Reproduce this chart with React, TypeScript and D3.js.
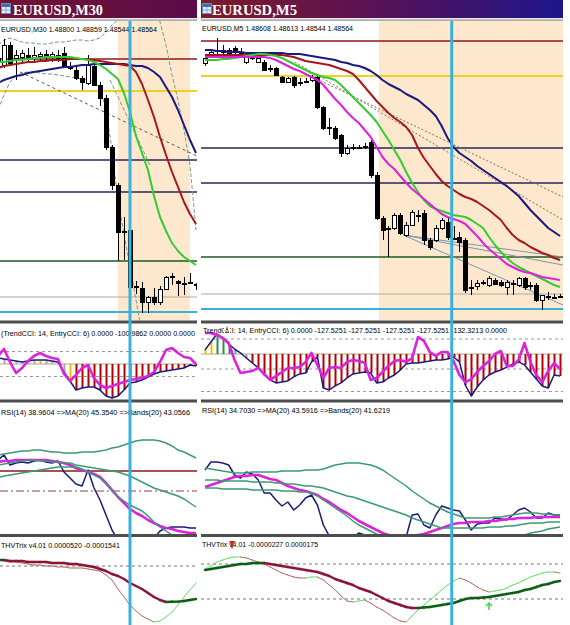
import React from "react";
import * as d3 from "d3";

/* ================= DATA ================= */
// Prices are in points above 1.48000 (1 point = 0.00001)

// ---- EURUSD, M30 (left) ----
const m30Open = [1014,1004,1044,1018,1020,1024,1018,1022,1026,1020,1024,1028,1002,994,978,968,1002,964,938,840,764,672,674,562,558,530,540,530,556,582,572,568,570,566];
const m30High = [1024,1056,1050,1034,1034,1038,1040,1030,1034,1030,1034,1040,1010,1002,982,1024,1010,970,944,844,768,700,678,572,570,542,558,562,582,588,574,580,588,568];
const m30Low = [1002,998,1004,974,1010,1010,1010,1014,1014,1010,1010,998,994,974,954,964,962,922,834,754,612,614,554,546,508,508,524,524,554,564,542,544,566,554];
const m30Close = [1018,1044,1008,1024,1028,1018,1024,1026,1020,1026,1018,1002,998,978,970,1004,964,938,840,764,670,670,560,560,530,540,530,556,580,582,568,568,568,564];
const m30MaGreen = [1010,1010,1012,1014,1014,1016,1018,1018,1020,1020,1020,1020,1020,1018,1016,1014,1010,1004,996,986,976,948,910,862,828,794,742,700,672,648,632,620,612,604];
const m30MaRed = [998,1002,1004,1006,1008,1010,1010,1012,1012,1014,1014,1014,1016,1016,1016,1016,1014,1012,1010,1008,1006,1004,1002,990,966,934,900,860,824,790,760,730,706,686];
const m30MaNavy = [968,974,978,982,984,988,990,992,994,996,998,1000,1000,1002,1004,1004,1006,1006,1006,1006,1006,1006,1004,1002,1002,998,990,980,960,940,914,884,854,828];
const m30EnvUpper = [1044,1054,1058,1054,1050,1048,1048,1046,1046,1048,1050,1050,1052,1054,1054,1052,1054,1058,1070,1084,1094,1104,1114,1124,1130,1134,1124,1090,1044,984,934,874,804,674];
const m30EnvLower = [914,944,970,982,988,990,990,988,986,986,984,982,980,978,976,974,970,958,914,834,734,666,600,534,466,434,414,404,398,394,390,388,386,384];
const m30Levels = [1016, 952, 814, 750, 612, 540, 510];
const m30TrendLine: [number, number][] = [[3.67, 990], [33.5, 820]];
const m30ChannelLine: [number, number][] = [[18.67, 974], [25.33, 804]];
const m30Session: [number, number] = [20, 32];
const m30Cursor = 22;
const m30TrendCci = [48,40,32,24,16,24,32,32,32,24,16,-64,-136,-208,-192,-184,-184,-208,-256,-272,-256,-208,-152,-144,-128,-104,-80,-64,-56,-48,-40,-32,-8,-16];
const m30EntryCci = [64,120,16,-72,-32,24,64,88,64,48,40,-80,-136,-88,-32,-8,-112,-168,-192,-176,-160,-144,-128,-120,-112,-96,-64,16,112,128,88,56,48,0];
const m30CciState = "nnnnnnnynnnnyrrrrrrrrrrrrrrrrrrrrr";
const m30CciLevels = [100, -100];
const m30Rsi = [81,86,76,78,79,78,80,81,79,78,80,69,63,57,55,71,53,41,26,11,1,1,1,2,2,1,3,10,13,14,14,14,13,13];
const m30RsiMa = [79,80,80,81,81,81,81,81,81,80,79,78,76,73,71,69,67,64,58,51,44,38,32,28,25,21,18,15,13,12,10,9,8,8];
const m30BandUp = [86,87,88,89,90,90,91,91,90,89,89,88,88,88,89,89,89,90,91,93,94,96,98,100,101,101,101,100,98,95,91,89,86,83];
const m30BandMid = [76,77,78,79,80,81,81,80,80,79,79,78,78,76,75,74,73,72,71,70,69,67,65,62,59,56,53,51,49,47,45,42,38,34];
const m30BandLow = [63,65,66,67,68,69,70,71,72,73,74,74,74,74,72,69,66,63,57,50,44,40,36,33,30,25,19,14,10,6,2,-1,-4,-7];
const m30RsiLevelSolid = [70];
const m30RsiLevelDashDot = [50];
const m30ThvSignal = [22,22,21,21,21,20,20,20,20,19,19,19,18,18,17,16,15,13,11,8,6,3,-1,-4,-7,-11,-15,-18,-20,-19.8,-19.6,-19,-18,-17];
const m30ThvMain = [22,21,20,20,19,18,17,17,16,16,15,15,14,14,14,13,12,11,7,2,-7,-15,-23,-29,-34,-37,-40,-39,-35,-30,-23,-15,-8,-1];
const m30ThvLevels = [16];

// ---- EURUSD, M5 (right) ----
const m5Open = [798,805,810,809,808,813,809,799,804,799,799,793,793,784,779,784,779,780,781,784,754,734,733,726,708,713,714,714,719,686,643,633,633,646,626,636,646,648,621,621,633,639,623,624,621,574,575,578,576,581,579,574,578,576,583,576,576,561,565,564,565];
const m5High = [806,811,823,816,813,815,813,806,807,805,801,796,794,785,784,785,783,783,786,785,755,743,735,727,716,717,716,718,721,689,645,635,648,648,639,651,651,651,623,636,643,643,635,629,623,581,581,581,585,583,581,581,581,584,584,579,578,566,569,567,567];
const m5Low = [795,803,806,807,806,807,804,797,801,798,790,789,785,779,778,773,775,778,779,752,731,726,721,704,706,711,712,712,683,641,621,604,631,626,624,635,639,616,611,619,631,621,621,609,568,566,571,576,574,576,574,566,566,574,571,571,559,551,561,562,563];
const m5Close = [803,809,811,811,811,809,808,804,803,803,791,792,786,779,783,776,778,780,784,754,733,733,723,708,713,714,714,715,686,643,631,632,646,628,636,649,646,621,614,633,641,624,623,619,571,574,578,579,583,577,576,579,578,583,574,576,561,566,565,564,564];
const m5MaNavy = [811,811,810,810,809,809,809,808,808,808,808,808,808,808,807,807,807,806,805,804,803,802,801,799,798,796,795,793,790,786,781,777,774,771,767,764,761,756,751,745,735,723,714,708,704,700,695,691,687,683,679,675,670,665,658,651,645,639,633,629,625];
const m5MaRed = [806,806,806,806,806,806,806,806,806,806,806,806,806,806,805,804,802,800,799,798,797,796,794,792,790,787,781,774,767,760,754,748,743,739,734,726,713,703,695,687,680,675,671,667,664,662,659,655,651,646,641,633,626,621,618,614,611,608,606,603,601];
const m5MaGreen = [801,801,801,802,802,803,804,805,806,807,807,806,805,803,800,797,794,791,788,786,784,783,781,776,770,764,758,752,746,739,730,721,711,701,689,678,669,661,655,652,650,648,646,645,644,641,637,633,624,616,609,603,598,594,591,588,585,582,579,576,574];
const m5MaMagenta = [804,804,804,804,804,804,804,804,804,804,804,803,801,798,795,792,790,787,784,781,776,769,762,756,749,743,738,731,724,714,704,697,692,685,678,672,667,662,657,652,647,644,642,640,637,631,625,618,612,607,602,597,594,591,589,588,586,584,583,582,581];
const m5Levels = [820, 785, 713, 678, 604, 567, 552];
const m5TrendA: [number, number][] = [[12.2, 801], [60.5, 664]];
const m5TrendB: [number, number][] = [[15.2, 799], [60.5, 641]];
const m5Fan: [number, number][][] = [
  [[33.5, 626], [60.5, 604]],
  [[33.5, 626], [60.5, 596]],
  [[33.5, 626], [60.5, 556]],
];
const m5Session: [number, number] = [29.4, 60.5];
const m5Cursor = 41.7;
const m5TrendCci = [27,80,133,107,67,33,7,-27,-60,-93,-140,-173,-193,-187,-180,-153,-133,-127,-53,-20,-227,-240,-213,-193,-160,-133,-127,-120,-127,-193,-187,-160,-140,-107,-67,-60,-60,-53,-47,-40,-40,-33,-20,-53,-207,-280,-220,-173,-140,-120,-107,-87,-67,-53,-73,-120,-167,-213,-227,-140,-147];
const m5EntryCci = [140,140,127,107,73,-40,-127,-120,-113,-93,-133,-173,-147,-120,-93,-93,-87,-53,7,-73,-160,-93,-87,-93,-53,-40,-47,-60,-173,-160,-120,-80,-47,-40,-53,-27,113,87,13,-13,13,13,-47,-140,-187,-167,-120,-80,-47,0,20,-80,-80,-40,73,-53,-140,-187,-113,-60,-100];
const m5CciState = "yygggttnrrrrrrrrrrrrrrrrrrrrrrrrrrrrrrrrrrrrrrrrrrrrrrrrrrrrr";
const m5CciLevels = [100, -100, -250];
const m5Rsi = [71,79,79,78,76,66,63,69,67,61,48,48,41,35,39,31,36,43,46,36,16,5,5,1,1,4,8,6,1,1,1,1,1,1,4,26,27,16,13,26,35,33,31,30,21,11,17,18,18,23,22,21,26,31,33,29,23,23,28,26,26];
const m5RsiMa = [54,56,58,60,62,64,65,65,66,66,64,62,61,58,55,53,51,50,48,46,42,39,35,31,28,24,20,17,14,11,8,6,4,3,3,5,6,7,9,11,13,15,17,18,18,19,19,19,20,20,21,22,22,23,23,23,24,24,24,24,24];
const m5BandUp = [73,72,71,70,69,68,68,68,69,69,69,69,69,70,70,70,70,71,71,71,72,74,76,77,78,78,78,77,76,74,71,67,63,59,55,50,46,42,38,35,32,29,27,25,23,23,23,23,23,24,24,25,26,27,28,28,28,27,27,26,26];
const m5BandMid = [61,61,61,60,60,60,60,60,59,59,59,59,58,58,57,57,56,55,55,54,53,51,49,47,45,44,42,40,38,36,34,32,30,28,26,23,21,19,17,15,13,13,13,13,13,13,13,13,14,14,14,15,15,16,17,18,18,18,19,19,19];
const m5BandLow = [53,53,53,52,52,52,52,52,51,51,51,51,51,50,50,50,49,49,48,45,41,37,33,29,25,20,16,13,10,7,4,1,-2,-5,-7,-9,-10,-11,-11,-11,-10,-9,-8,-7,-6,-5,-4,-3,-2,-1,0,1,2,4,6,8,9,10,12,13,14];
const m5RsiLevelSolid: number[] = [];
const m5RsiLevelDashDot: number[] = [];
const m5ThvSignal = [12,13,14,15,16,17,18,18,19,19,19,18,17,16,15,14,13,12,11,10,8,6,3,1,-1,-3,-6,-8,-10,-13,-16,-19,-21,-23,-25,-26,-26,-25.5,-25,-24,-23,-22,-21,-19,-17,-16,-16,-15.5,-15,-14,-13,-12,-11,-10,-8,-7,-5,-3,-2,0,1];
const m5ThvMain = [13,16,20,22,24,25,25,24,22,20,18,15,12,9,7,5,4,4,5,5,2,-3,-8,-14,-19,-20,-19,-18,-21,-25,-28,-32,-36,-39,-40,-34,-28,-23,-18,-13,-8,-3,1,4,2,-1,-5,-8,-10,-9,-8,-6,-3,-1,2,5,7,9,10,10,9];
const m5ThvLevels = [18, -17];
const m5ThvArrows: [number, number][] = [[48, -21]];

/* ================= STYLE / LAYOUT ================= */
const W = 570, H = 625;
const FONT = "'Liberation Sans', Arial, sans-serif";
const PANE: Record<string, [number, number]> = {
  main: [21, 320.5],
  cci: [323.5, 399.5],
  rsi: [402.5, 534],
  thv: [537, 625],
};
const SEPS = [322, 401, 535.5];
const PEACH = "#fde8ce";
const CYAN = "#3ab0dc";
const NAVY = "#1a1a7e";
const RED = "#a8161a";
const GREEN = "#33cc33";
const MAGENTA = "#dd22dd";
const BAND = "#3a9a74";
const levelStyle = [
  { c: "#8b1a1a", w: 1.5 },
  { c: "#f0d020", w: 2 },
  { c: "#24245e", w: 1.5 },
  { c: "#24245e", w: 1.5 },
  { c: "#1e5a1e", w: 1.5 },
  { c: "#aaaaaa", w: 1 },
  { c: CYAN, w: 2 },
];
const histColor: Record<string, string> = {
  n: "#a8a8a8", y: "#e8c400", g: "#2e8b57", t: "#5aa0b0", r: "#b40000",
};

const SIDES = [
  {
    id: "L", x0: 0, x1: 197, n: m30Open.length, barStart: -2, barStep: 6,
    grad: "tbL", title: "EURUSD,M30", titleX: 13, titleLen: 90,
    priceDomain: [488, 1090], priceRange: [323, 22],
    open: m30Open, high: m30High, low: m30Low, close: m30Close,
    mas: [
      { v: m30MaNavy, c: NAVY, w: 2 },
      { v: m30MaRed, c: RED, w: 2 },
      { v: m30MaGreen, c: GREEN, w: 2 },
    ],
    levels: m30Levels,
    envelopes: [m30EnvUpper, m30EnvLower],
    lines: [
      { pts: m30TrendLine, c: "#555555", dash: "3,3", w: 1 },
      { pts: m30ChannelLine, c: "#7a9a7a", dash: "4,2", w: 1 },
    ],
    session: m30Session, cursor: m30Cursor,
    mainHeader: "EURUSD,M30  1.48800 1.48859 1.48544 1.48564", mh: [1, 32, 156, 7],
    cciDomain: [-300, 300], cciRange: [401.5, 326.5],
    trendCci: m30TrendCci, entryCci: m30EntryCci, cciState: m30CciState, cciLevels: m30CciLevels,
    cciHeader: "(TrendCCI: 14, EntryCCI: 6)  0.0000 -100.9862 0.0000 0.0000", ch: [1, 336, 194, 7],
    rsi: m30Rsi, rsiMa: m30RsiMa, bands: [m30BandUp, m30BandMid, m30BandLow],
    rsiSolid: m30RsiLevelSolid, rsiDashDot: m30RsiLevelDashDot,
    rsiHeader: "RSI(14) 38.9604  =>MA(20) 45.3540  =>Bands(20) 43.0566", rh: [1, 415, 189, 7],
    thvSignal: m30ThvSignal, thvMain: m30ThvMain, thvLevels: m30ThvLevels, thvArrows: [] as [number, number][],
    thvHeader: "THVTrix v4.01 0.0000520 -0.0001541", th: [1, 548, 119, 7],
  },
  {
    id: "R", x0: 201, x1: 563, n: m5Open.length, barStart: 205, barStep: 5.917,
    grad: "tbR", title: "EURUSD,M5", titleX: 212, titleLen: 85,
    priceDomain: [539, 839], priceRange: [322, 22],
    open: m5Open, high: m5High, low: m5Low, close: m5Close,
    mas: [
      { v: m5MaNavy, c: NAVY, w: 2 },
      { v: m5MaRed, c: RED, w: 2 },
      { v: m5MaGreen, c: GREEN, w: 2 },
      { v: m5MaMagenta, c: MAGENTA, w: 2 },
    ],
    levels: m5Levels,
    envelopes: [] as number[][],
    lines: [
      { pts: m5TrendA, c: "#8a6a5a", dash: "2,2", w: 1 },
      { pts: m5TrendB, c: "#8a6a5a", dash: "2,2", w: 1 },
      ...m5Fan.map((pts) => ({ pts, c: "#7896b4", dash: "", w: 1 })),
    ],
    session: m5Session, cursor: m5Cursor,
    mainHeader: "EURUSD,M5  1.48608 1.48613 1.48544 1.48564", mh: [202, 31, 151, 7],
    cciDomain: [-300, 200], cciRange: [399, 324],
    trendCci: m5TrendCci, entryCci: m5EntryCci, cciState: m5CciState, cciLevels: m5CciLevels,
    cciHeader: "TrendCCI: 14, EntryCCI: 6)  0.0000 -127.5251 -127.5251 -127.5251 -127.5251 -132.3213 0.0000", ch: [203, 333, 304, 6.5],
    rsi: m5Rsi, rsiMa: m5RsiMa, bands: [m5BandUp, m5BandMid, m5BandLow],
    rsiSolid: m5RsiLevelSolid, rsiDashDot: m5RsiLevelDashDot,
    rsiHeader: "RSI(14) 34.7030  =>MA(20) 43.5916  =>Bands(20) 41.6219", rh: [202, 413, 188, 7],
    thvSignal: m5ThvSignal, thvMain: m5ThvMain, thvLevels: m5ThvLevels, thvArrows: m5ThvArrows,
    thvHeader: "THVTrix v4.01 -0.0000227 0.0000175", th: [202, 547, 116, 7],
  },
];

type Side = (typeof SIDES)[number];

function SlopeLine({ x, y, values, up, down, width }: any) {
  const segs: any[] = [];
  let prev = values[1] >= values[0] ? up : down;
  for (let i = 0; i < values.length - 1; i++) {
    const d = values[i + 1] - values[i];
    const col = d > 0 ? up : d < 0 ? down : prev;
    prev = col;
    segs.push(
      <line key={i} x1={x(i)} y1={y(values[i])} x2={x(i + 1)} y2={y(values[i + 1])}
        stroke={col} strokeWidth={width} strokeLinecap="round" />
    );
  }
  return <g>{segs}</g>;
}

function Header({ t, pos }: { t: string; pos: number[] }) {
  return (
    <text x={pos[0]} y={pos[1]} fontFamily={FONT} fontSize={pos[3]} fill="#000"
      textLength={pos[2]} lengthAdjust="spacingAndGlyphs">{t}</text>
  );
}

function SidePanel({ s }: { s: Side }) {
  const x = d3.scaleLinear().domain([0, s.n - 1]).range([s.barStart, s.barStart + s.barStep * (s.n - 1)]);
  const yP = d3.scaleLinear().domain(s.priceDomain).range(s.priceRange);
  const yC = d3.scaleLinear().domain(s.cciDomain).range(s.cciRange);
  const yR = d3.scaleLinear().domain([0, 140]).range([541, 401]);
  const yT = d3.scaleLinear().domain([-50, 50]).range([632, 532]);
  const w = s.x1 - s.x0;
  const clip = (k: string) => `url(#clip-${s.id}-${k})`;
  const line = (yS: any) => d3.line<number>().x((_, i) => x(i)).y((d) => yS(d));
  const seg = (yS: any) => d3.line<[number, number]>().x((d) => x(d[0])).y((d) => yS(d[1]));
  const hl = (yv: number, stroke: string, sw: number, dash?: string, key?: any) => (
    <line key={key} x1={s.x0} x2={s.x1} y1={yv} y2={yv} stroke={stroke} strokeWidth={sw} strokeDasharray={dash} />
  );
  const zeroC = yC(0);

  return (
    <g>
      <defs>
        {Object.entries(PANE).map(([k, [a, b]]) => (
          <clipPath id={`clip-${s.id}-${k}`} key={k}>
            <rect x={s.x0} y={a} width={w} height={b - a} />
          </clipPath>
        ))}
      </defs>

      {/* title bar */}
      <rect x={s.x0} y={0} width={w} height={18} fill={`url(#${s.grad})`} />
      <rect x={s.x0} y={18} width={w} height={1.5} fill="#ececec" />
      <rect x={s.x0} y={19.5} width={w} height={1.2} fill="#8c8c8c" />
      <rect x={s.x0 + 1.5} y={3.5} width={9} height={10} fill="#e6eef8" stroke="#6d8db8" />
      <rect x={s.x0 + 2} y={4} width={8} height={3} fill="#3c6cb4" />
      <line x1={s.x0 + 2} x2={s.x0 + 10} y1={10} y2={10} stroke="#8aa6cc" />
      <line x1={s.x0 + 6} x2={s.x0 + 6} y1={7} y2={13} stroke="#8aa6cc" />
      <text x={s.titleX} y={15} fontFamily="'Liberation Serif', 'Times New Roman', serif" fontWeight="bold"
        fontSize={15.5} fill="#fff" textLength={s.titleLen} lengthAdjust="spacingAndGlyphs">{s.title}</text>

      {/* ===== main pane ===== */}
      <g clipPath={clip("main")}>
        <rect x={x(s.session[0])} y={PANE.main[0]} width={x(s.session[1]) - x(s.session[0])}
          height={PANE.main[1] - PANE.main[0]} fill={PEACH} />
        {s.levels.map((v, i) => hl(yP(v), levelStyle[i].c, levelStyle[i].w, undefined, "lv" + i))}
        {s.envelopes.map((e, i) => (
          <path key={"env" + i} d={line(yP)(e) || ""} fill="none" stroke="#7a9a86" strokeWidth={1} strokeDasharray="4,2" />
        ))}
        {s.lines.map((l, i) => (
          <path key={"tl" + i} d={seg(yP)(l.pts) || ""} fill="none" stroke={l.c} strokeWidth={l.w}
            strokeDasharray={l.dash || undefined} />
        ))}
        {s.open.map((o, i) => {
          const px = Math.round(x(i));
          const c = s.close[i];
          const top = Math.min(yP(o), yP(c));
          const bot = Math.max(yP(o), yP(c));
          const bull = c > o;
          return (
            <g key={"c" + i}>
              <line x1={px + 0.5} x2={px + 0.5} y1={yP(s.high[i])} y2={yP(s.low[i])} stroke="#000" strokeWidth={1} />
              <rect x={px - 1.5} y={Math.round(top) + 0.5} width={4} height={Math.max(Math.round(bot - top), 1)}
                fill={bull ? "#fff" : "#000"} stroke="#000" strokeWidth={1} />
            </g>
          );
        })}
        {s.mas.map((m, i) => (
          <path key={"ma" + i} d={line(yP)(m.v) || ""} fill="none" stroke={m.c} strokeWidth={m.w} strokeLinejoin="round" />
        ))}
        <Header t={s.mainHeader} pos={s.mh} />
      </g>

      {/* ===== CCI pane ===== */}
      <g clipPath={clip("cci")}>
        {s.cciLevels.map((v, i) => hl(yC(v), "#9a9a9a", 1, "3,3", "cl" + i))}
        {hl(zeroC, "#b8a488", 1.2, undefined, "cz")}
        {s.trendCci.map((v, i) => {
          const yv = yC(v);
          const px = Math.round(x(i));
          return (
            <rect key={"h" + i} x={px - 0.5} y={Math.min(yv, zeroC)} width={2}
              height={Math.abs(yv - zeroC)} fill={histColor[s.cciState[i]]} />
          );
        })}
        <path d={line(yC)(s.trendCci) || ""} fill="none" stroke={NAVY} strokeWidth={1.5} strokeLinejoin="round" />
        <path d={line(yC)(s.entryCci) || ""} fill="none" stroke={MAGENTA} strokeWidth={2.6} strokeLinejoin="round" />
        <Header t={s.cciHeader} pos={s.ch} />
        {s.id === "R" && (
          <g>
            <rect x={224} y={325.5} width={6} height={8} fill="#fff" />
            <polygon points="225,333 227,326 229,333" fill="#2a4aa8" />
            <rect x={225.5} y={330} width={3} height={2} fill="#e8c400" />
          </g>
        )}
      </g>

      {/* ===== RSI pane ===== */}
      <g clipPath={clip("rsi")}>
        {s.rsiSolid.map((v, i) => hl(yR(v), "#8b1a1a", 1.5, undefined, "rs" + i))}
        {s.rsiDashDot.map((v, i) => hl(yR(v), "#b88080", 1.5, "8,3,2,3", "rd" + i))}
        <path d={line(yR)(s.rsi) || ""} fill="none" stroke={NAVY} strokeWidth={1.5} strokeLinejoin="round" />
        <path d={line(yR)(s.rsiMa) || ""} fill="none" stroke={MAGENTA} strokeWidth={2.6} strokeLinejoin="round" />
        {s.bands.map((b, i) => (
          <path key={"b" + i} d={line(yR)(b) || ""} fill="none" stroke={BAND} strokeWidth={1.5} />
        ))}
        <Header t={s.rsiHeader} pos={s.rh} />
      </g>

      {/* ===== THV pane ===== */}
      <g clipPath={clip("thv")}>
        {s.thvLevels.map((v, i) => hl(yT(v), "#777777", 1, "3,3", "tl" + i))}
        <SlopeLine x={x} y={yT} values={s.thvMain} up="#66dd66" down="#b06a64" width={1} />
        <SlopeLine x={x} y={yT} values={s.thvSignal} up="#0c5e14" down="#8c1436" width={2.4} />
        {s.thvArrows.map(([b, v], i) => {
          const ax = x(b), ay = yT(v);
          return (
            <g key={"ar" + i} stroke="#44d044" strokeWidth={1.5} fill="none">
              <line x1={ax} x2={ax} y1={ay} y2={ay + 7} />
              <polyline points={`${ax - 3},${ay + 3} ${ax},${ay} ${ax + 3},${ay + 3}`} />
            </g>
          );
        })}
        <Header t={s.thvHeader} pos={s.th} />
        {s.id === "R" && (
          <g fill="#d02020">
            <polygon points="229,541 235,541 232,546" />
            <polygon points="230,545 234,545 232,549" />
          </g>
        )}
      </g>

      {/* separators */}
      {SEPS.map((sy, i) => (
        <rect key={"sep" + i} x={s.x0} y={sy - 1.5} width={w} height={3} fill="#4d4d4d" />
      ))}

      {/* cursor vertical line */}
      <line x1={x(s.cursor)} x2={x(s.cursor)} y1={PANE.main[0]} y2={H} stroke={CYAN} strokeWidth={3} />
    </g>
  );
}

export default function App() {
  return (
    <svg width={W} height={H} viewBox={`0 0 ${W} ${H}`} xmlns="http://www.w3.org/2000/svg"
      style={{ position: "absolute", left: 0, top: 0, display: "block", background: "#fff" }}>
      <defs>
        <linearGradient id="tbL" x1="0" x2="1" y1="0" y2="0">
          <stop offset="0" stopColor="#721334" />
          <stop offset="1" stopColor="#5a0c4a" />
        </linearGradient>
        <linearGradient id="tbR" x1="0" x2="1" y1="0" y2="0">
          <stop offset="0" stopColor="#7e1b2a" />
          <stop offset="0.5" stopColor="#561157" />
          <stop offset="1" stopColor="#1e168c" />
        </linearGradient>
      </defs>
      <rect width={W} height={H} fill="#fff" />
      {SIDES.map((s) => (
        <SidePanel key={s.id} s={s} />
      ))}
    </svg>
  );
}
